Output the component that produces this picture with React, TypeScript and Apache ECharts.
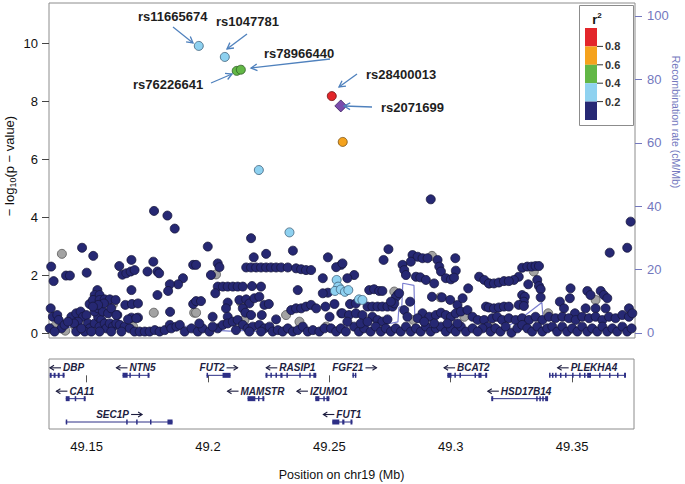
import React, { useEffect, useRef } from "react";
import * as echarts from "echarts";

// ---------- data (positions in kb on chr19, -log10 p) ----------
const navySnps: [number, number][] = [
  // upper / mid, left part
  [49177.7,4.21],[49183.2,4.05],[49186.2,3.60],[49148.1,2.94],[49152.7,2.66],[49135.4,2.29],[49136.4,1.79],[49141.5,1.98],[49143.1,1.98],[49150.0,2.08],
  [49163.4,2.31],[49168.4,2.52],[49164.7,2.01],[49166.3,2.06],[49168.1,2.12],[49169.7,2.17],[49175.0,2.12],[49177.4,2.46],[49179.1,2.12],[49179.8,2.06],
  [49193.8,2.35],[49189.6,1.89],[49187.6,1.68],[49184.2,1.68],[49183.5,1.45],[49179.1,1.31],[49168.4,1.48],[49154.4,1.48],[49153.3,1.31],[49155.3,1.31],
  [49151.2,1.00],[49152.6,1.14],[49155.3,1.14],[49157.4,1.16],[49159.5,1.16],[49161.9,1.14],[49165.9,0.97],[49168.6,1.00],[49171.1,1.02],[49168.4,0.53],
  [49171.1,0.53],[49162.6,0.62],[49184.3,0.73],[49193.8,1.00],
  [49135.2,0.85],[49136.1,0.56],[49137.9,0.62],[49138.5,0.45],[49134.8,0.16],[49139.6,0.16],[49143.7,0.56],[49145.7,0.68],[49147.5,0.74],[49148.5,0.56],
  [49149.9,0.62],[49146.4,0.39],[49144.8,0.33],[49150.5,0.33],[49151.2,0.16],[49153.3,0.33],[49154.7,0.56],[49156.0,0.45],[49155.3,0.22],[49157.4,0.33],
  [49158.1,0.16],[49159.5,0.33],[49160.8,0.22],[49162.2,0.33],[49163.6,0.28],[49165.6,0.22],[49167.7,0.16],[49169.7,0.05],[49171.8,0.05],[49173.9,0.05],
  [49175.9,0.05],[49178.0,0.10],[49180.0,0.05],[49182.1,0.10],[49184.2,0.28],[49184.8,0.16],[49186.9,0.22],[49188.3,0.28],[49190.3,0.05],[49193.1,0.16],
  [49145.7,0.05],[49149.2,0.05],[49136.8,0.05],[49155.3,0.05],[49160.1,0.05],[49164.3,0.05],[49151.9,0.05],[49147.8,0.16],[49140.9,0.28],[49142.3,0.39],
  [49153.3,0.74],[49154.7,0.85],[49156.7,0.74],[49158.8,0.68],[49157.1,1.02],[49154.7,0.97],[49152.6,0.91],[49160.1,0.85],[49167.0,0.47],[49170.4,0.51],
  [49162.2,0.62],
  // 49.195 - 49.255
  [49217.6,3.27],[49199.8,2.98],[49223.8,2.73],[49218.7,2.61],[49234.8,2.84],[49249.2,2.61],[49195.0,2.35],[49203.9,2.40],[49204.6,2.27],[49201.1,2.00],
  [49215.6,2.26],[49217.6,2.26],[49219.7,2.26],[49221.7,2.26],[49223.8,2.26],[49225.8,2.26],[49227.9,2.26],[49230.0,2.26],[49232.7,2.26],
  [49236.1,2.23],[49238.2,2.20],[49240.2,2.17],[49242.3,2.17],[49254.7,2.35],[49252.6,2.27],
  [49203.9,1.60],[49206.0,1.60],[49208.0,1.60],[49210.1,1.60],[49212.1,1.60],[49214.2,1.60],[49202.9,1.37],[49218.0,1.62],[49221.7,1.60],[49236.8,1.48],
  [49247.1,1.89],[49249.2,1.39],[49247.1,1.37],
  [49195.0,1.10],[49197.0,1.10],[49208.0,1.05],[49207.3,0.85],[49212.8,1.14],[49215.6,1.16],[49216.9,1.02],[49219.0,1.20],[49221.0,1.25],[49223.1,0.97],
  [49224.9,1.00],[49214.2,0.85],[49215.3,0.70],[49217.6,0.62],[49201.8,0.56],[49208.0,0.56],[49222.0,0.62],[49227.9,0.47],[49234.1,0.79],[49236.1,0.85],
  [49238.2,0.85],[49240.2,0.91],[49242.3,0.97],[49244.4,0.85],[49248.2,0.91],[49251.9,1.00],[49249.9,0.56],[49254.7,0.68],
  [49195.7,0.05],[49197.7,0.16],[49200.5,0.05],[49203.9,0.16],[49206.0,0.28],[49208.0,0.33],[49210.1,0.39],[49212.1,0.45],[49214.2,0.28],[49216.2,0.16],
  [49218.3,0.22],[49221.0,0.28],[49223.1,0.16],[49225.2,0.22],[49226.5,0.05],[49228.6,0.10],[49230.6,0.05],[49232.7,0.16],[49234.8,0.05],[49236.8,0.10],
  [49238.9,0.22],[49240.9,0.05],[49243.0,0.10],[49245.7,0.05],[49247.8,0.16],[49250.5,0.16],[49252.6,0.05],[49196.3,0.33],[49201.8,0.22],[49211.4,0.10],
  [49216.9,0.05],[49221.7,0.05],
  // 49.255 - 49.315
  [49291.5,4.61],[49274.1,2.89],[49272.1,2.52],[49255.2,2.40],[49284.0,2.69],[49286.1,2.63],[49288.1,2.58],[49290.2,2.58],[49294.3,2.52],[49301.6,2.58],
  [49295.0,2.29],[49301.8,2.15],[49295.7,2.12],[49297.7,1.89],[49299.8,1.85],[49301.1,1.91],[49279.9,2.35],[49283.3,2.46],[49280.6,2.17],[49281.3,2.00],
  [49285.4,1.94],[49287.2,1.92],[49289.5,1.83],[49292.9,1.71],[49311.4,1.94],[49313.5,1.83],[49315.6,1.71],[49306.9,1.54],[49260.0,2.00],[49257.2,1.89],
  [49266.2,1.48],[49268.2,1.51],[49270.3,1.45],[49271.6,1.45],[49277.8,1.31],[49277.1,1.23],[49278.5,1.37],[49283.0,1.08],[49292.0,1.25],[49296.1,1.23],
  [49299.5,1.14],[49302.5,0.97],[49304.6,1.20],[49314.2,0.91],[49258.3,1.00],[49260.7,1.02],[49265.5,0.91],[49267.5,0.91],[49269.6,0.91],[49271.6,0.91],
  [49273.7,0.91],[49275.8,0.91],[49276.5,1.02],[49275.1,1.08],[49280.6,0.79],[49255.2,0.68],[49257.9,0.62],[49260.7,0.68],[49263.4,0.62],[49267.5,0.56],
  [49269.6,0.45],[49271.6,0.39],[49273.7,0.47],[49288.1,0.68],[49290.9,0.56],[49293.6,0.62],[49295.7,0.70],[49297.7,0.62],[49299.8,0.56],[49301.8,0.68],
  [49303.9,0.74],[49306.6,0.79],[49308.7,0.56],[49310.8,0.45],[49313.5,0.45],[49314.9,0.22],[49312.8,0.16],[49281.9,0.56],[49286.1,0.51],
  [49254.5,0.16],[49256.6,0.05],[49260.0,0.22],[49262.0,0.05],[49264.1,0.16],[49266.8,0.05],[49268.9,0.22],[49271.0,0.05],[49273.0,0.16],[49275.1,0.05],
  [49277.1,0.16],[49279.2,0.05],[49281.3,0.22],[49283.3,0.05],[49285.4,0.16],[49287.4,0.05],[49289.5,0.22],[49291.5,0.05],[49293.6,0.16],[49295.7,0.22],
  [49297.7,0.05],[49299.8,0.16],[49301.8,0.05],[49303.9,0.22],[49306.0,0.05],[49308.7,0.16],[49310.8,0.05],[49257.2,0.39],[49262.7,0.33],[49265.5,0.39],
  [49288.8,0.39],[49292.9,0.33],[49298.4,0.33],[49302.5,0.33],
  // 49.315 - 49.375
  [49373.7,3.84],[49372.3,2.94],[49365.1,2.77],[49329.1,2.25],[49331.2,2.29],[49333.0,2.29],[49334.6,2.31],[49336.0,2.31],[49327.7,1.94],[49325.7,1.83],
  [49315.4,1.71],[49317.5,1.71],[49319.5,1.74],[49321.6,1.79],[49323.6,1.79],[49331.6,1.68],[49335.3,1.83],[49336.0,1.62],[49336.7,1.51],[49329.1,1.31],
  [49330.2,1.25],[49329.8,1.08],[49336.7,1.23],[49349.0,1.54],[49348.7,1.20],[49344.6,1.08],[49355.9,1.45],[49357.2,1.31],[49361.4,1.45],[49362.7,1.31],
  [49364.1,1.20],[49315.4,0.88],[49317.5,0.85],[49319.5,0.88],[49321.6,0.91],[49323.6,0.91],[49327.7,0.97],[49329.8,0.93],[49346.3,0.85],[49350.8,0.68],
  [49355.2,0.85],[49359.3,0.85],[49363.4,0.85],[49373.0,0.85],
  [49316.8,0.51],[49318.8,0.56],[49320.9,0.45],[49323.6,0.51],[49326.4,0.45],[49329.1,0.51],[49331.9,0.45],[49334.6,0.56],[49337.4,0.45],[49340.1,0.56],
  [49342.8,0.51],[49345.6,0.56],[49348.3,0.51],[49351.1,0.45],[49353.8,0.56],[49356.6,0.51],[49359.3,0.56],[49362.1,0.45],[49364.8,0.56],[49367.5,0.51],
  [49370.3,0.62],[49373.0,0.56],[49374.4,0.68],
  [49316.1,0.05],[49318.1,0.16],[49320.2,0.05],[49322.3,0.22],[49324.7,0.01],[49327.1,0.16],[49329.1,0.28],[49331.2,0.16],[49333.2,0.05],[49335.3,0.22],
  [49337.4,0.05],[49339.4,0.16],[49341.5,0.22],[49343.5,0.05],[49345.6,0.22],[49347.6,0.05],[49349.7,0.16],[49351.8,0.05],[49353.8,0.22],[49355.9,0.05],
  [49357.9,0.16],[49360.0,0.05],[49362.1,0.22],[49364.1,0.05],[49366.2,0.16],[49368.2,0.05],[49370.3,0.22],[49372.3,0.05],[49374.1,0.16],
];
const greySnps: [number, number][] = [
  [49139.8,2.73],[49160.8,0.99],[49177.6,0.70],[49194.2,0.70],[49136.8,0.22],[49141.2,0.08],[49145.3,0.22],[49169.1,0.22],
  [49203.2,2.02],[49213.5,1.05],[49195.0,0.70],[49232.0,0.62],[49237.5,0.39],[49214.9,0.45],[49248.5,0.22],
  [49292.0,2.66],[49276.5,1.43],[49295.4,1.23],[49284.4,0.45],[49305.3,0.56],
  [49333.9,2.12],[49359.3,1.14],[49339.8,0.68],[49316.8,0.22],
];
const lightBlueSnps: [number, number][] = [
  [49196.1,9.90],[49206.8,9.52],[49220.8,5.62],[49233.4,3.47],[49252.8,1.83],[49253.4,1.60],[49252.1,1.45],[49254.5,1.50],
  [49256.2,1.42],[49257.6,1.48],[49262.0,1.16],[49263.4,1.14],
];
const greenSnps: [number, number][] = [[49211.7,9.04],[49213.4,9.08]];
const orangeSnps: [number, number][] = [[49255.3,6.59]];
const redSnps: [number, number][] = [[49250.8,8.17]];
const leadSnp: [number, number][] = [[49254.5,7.83]];

// recombination rate (cM/Mb)
const recombPosKb = [49134.4,49143.0,49151.2,49159.5,49167.7,49175.9,49184.2,49192.4,49200.6,49208.8,49213.0,49219.1,49229.4,49237.7,49245.9,49252.1,49258.2,49266.5,49274.7,49278.0,49278.4,49279.6,49280.0,49284.6,49285.0,49295.2,49305.5,49311.7,49319.9,49324.0,49328.6,49337.2,49338.0,49352.9,49365.2,49375.5];
const recombRate = [1.5,1.8,2.0,1.6,1.2,1.5,1.8,2.2,1.0,0.6,0.8,0.5,0.4,0.5,0.8,1.5,2.2,2.5,3.0,3.5,8.0,8.5,15.7,15.0,3.5,2.5,1.0,0.6,0.8,2.5,4.6,9.6,1.0,0.8,1.2,1.5];

// genes
const geneNames = ["DBP","CA11","SEC1P","NTN5","FUT2","MAMSTR","RASIP1","IZUMO1","FUT1","FGF21","BCAT2","HSD17B14","PLEKHA4"];
const geneStartKb = [49134.8,49141.4,49141.4,49164.8,49199.4,49216.3,49223.7,49244.2,49251.2,49259.5,49298.6,49316.7,49340.5];
const geneEndKb = [49140.9,49149.6,49185.4,49175.9,49209.3,49223.2,49244.6,49250.0,49259.5,49261.1,49315.0,49340.1,49372.2];
const geneRow = [0,1,2,0,0,1,0,1,2,0,0,1,0];
const geneStrand = [-1,-1,1,-1,1,-1,-1,-1,-1,1,-1,-1,-1];
const geneExonsKb: [number, number][][] = [
  [[49134.8,49135.6],[49136.4,49137.2],[49138.1,49138.9],[49140.1,49140.9]],
  [[49141.4,49143.0],[49145.1,49145.5],[49148.8,49149.6]],
  [[49141.4,49141.8],[49166.3,49166.7],[49170.4,49170.8],[49176.1,49176.5],[49183.3,49185.4]],
  [[49164.8,49166.9],[49167.6,49168.0],[49171.4,49171.8],[49175.1,49175.9]],
  [[49199.4,49199.8],[49206.0,49209.3]],
  [[49216.3,49219.5],[49220.6,49221.0],[49222.4,49223.2]],
  [[49223.7,49224.5],[49225.7,49226.1],[49227.8,49228.2],[49229.8,49230.7],[49232.3,49232.7],[49237.6,49238.0],[49241.7,49242.1],[49243.4,49244.6]],
  [[49244.2,49245.9],[49247.5,49247.9],[49248.8,49250.0]],
  [[49251.2,49254.1],[49255.3,49256.2],[49258.7,49259.5]],
  [[49259.5,49260.1],[49260.5,49261.1]],
  [[49298.6,49300.3],[49301.5,49301.9],[49303.6,49304.0],[49309.8,49310.2],[49311.4,49312.7],[49314.2,49315.0]],
  [[49316.7,49317.5],[49335.2,49335.6],[49336.5,49336.9],[49337.7,49338.1],[49338.9,49340.1]],
  [[49340.5,49340.9],[49341.7,49342.1],[49343.0,49343.4],[49345.0,49345.4],[49347.1,49347.5],[49350.0,49350.4],[49352.9,49353.3],[49354.9,49355.3],[49356.2,49357.8],[49361.1,49361.5],[49365.2,49365.6],[49368.5,49368.9],[49371.4,49372.2]],
];

const pValueTicks = [0, 2, 4, 6, 8, 10];
const recombTicks = [0, 20, 40, 60, 80, 100];
const positionTicks = [49.15, 49.2, 49.25, 49.3, 49.35];
const ldBreaks = ["0.8", "0.6", "0.4", "0.2"];
const ldColors = ["#e3262b", "#f5a21d", "#62b746", "#8fd2f0", "#262874"];

// annotations (text start x, centre y) and arrows [x1,y1,x2,y2]
const annoLabels = ["rs11665674", "rs1047781", "rs78966440", "rs76226641", "rs28400013", "rs2071699"];
const annoTextPos = [[138,16],[216,21],[264,53],[133,84],[366,74],[381,107]];
const annoArrows = [[173,27,193,43],[247,34,227,49],[330,59,251,68],[211,83,232,74],[357,74,339,87],[372,107,344,106]];

const FONT = '"Liberation Sans", Arial, sans-serif';
const X_MIN = 49.1345;
const X_MAX = 49.3755;

const toMb = (arr: [number, number][]) => arr.map(([kb, p]) => [kb / 1000, p]);

// approximate advance widths of bold 10px Arial-like glyphs
const glyphW: Record<string, number> = {
  A: 7.2, B: 7.2, C: 7.2, D: 7.2, E: 6.7, F: 6.1, G: 7.8, H: 7.2, I: 2.8, K: 7.2, L: 6.1, M: 8.3, N: 7.2,
  O: 7.8, P: 6.7, R: 7.2, S: 6.7, T: 6.1, U: 7.2, Z: 6.1,
};
const textWidth = (s: string) => s.split("").reduce((w, c) => w + (glyphW[c] ?? 5.6), 0);

function arrowHead(x: number, y: number, dir: number, color: string) {
  const L = 4;
  return {
    type: "polyline",
    shape: { points: [[x - dir * L, y - 2.5], [x, y], [x - dir * L, y + 2.5]] },
    style: { stroke: color, lineWidth: 1.1, fill: null },
  };
}

function arrowGraphics() {
  const out: any[] = [];
  annoArrows.forEach(([x1, y1, x2, y2]) => {
    const a = Math.atan2(y2 - y1, x2 - x1);
    const L = 7, s = 0.5;
    out.push({ type: "line", z: 50, shape: { x1, y1, x2, y2 }, style: { stroke: "#4f81bd", lineWidth: 1.3 } });
    out.push({
      type: "polyline", z: 50,
      shape: { points: [[x2 - L * Math.cos(a - s), y2 - L * Math.sin(a - s)], [x2, y2], [x2 - L * Math.cos(a + s), y2 - L * Math.sin(a + s)]] },
      style: { stroke: "#4f81bd", lineWidth: 1.3, fill: null },
    });
  });
  annoLabels.forEach((t, i) => {
    out.push({ type: "text", z: 50, x: annoTextPos[i][0], y: annoTextPos[i][1],
      style: { text: t, fill: "#1e1e1e", font: `bold 13px ${FONT}`, align: "left", verticalAlign: "middle" } });
  });
  return out;
}

function legendGraphics() {
  const out: any[] = [];
  out.push({ type: "rect", z: 60, shape: { x: 579.5, y: 5.5, width: 54, height: 120 }, style: { fill: "#fff", stroke: "#8c8c8c", lineWidth: 1 } });
  out.push({ type: "text", z: 61, x: 597, y: 19, style: { text: "{r|r}{s|2}", align: "center", verticalAlign: "middle",
    rich: { r: { font: `bold 13px ${FONT}`, fill: "#111" }, s: { font: `bold 8px ${FONT}`, fill: "#111", padding: [0, 0, 7, 0] } } } });
  const top = 28, h = 18.4;
  ldColors.forEach((c, i) => {
    out.push({ type: "rect", z: 61, shape: { x: 585, y: top + i * h, width: 12, height: h }, style: { fill: c } });
  });
  ldBreaks.forEach((t, i) => {
    const y = top + (i + 1) * h;
    out.push({ type: "line", z: 61, shape: { x1: 597, y1: y, x2: 603, y2: y }, style: { stroke: "#333", lineWidth: 1 } });
    out.push({ type: "text", z: 61, x: 605, y, style: { text: t, font: `bold 11px ${FONT}`, fill: "#333", align: "left", verticalAlign: "middle" } });
  });
  return out;
}

export default function App() {
  const ref = useRef<HTMLDivElement>(null);
  useEffect(() => {
    if (!ref.current) return;
    const chart = echarts.init(ref.current, null, { renderer: "svg" });
    const geneData = geneNames.map((_, i) => [geneStartKb[i] / 1000, geneEndKb[i] / 1000, geneRow[i]]);
    const scatterBase = { type: "scatter", xAxisIndex: 0, yAxisIndex: 0, symbolSize: 9, clip: true, silent: true };
    const geneColor = "#2d2f86";
    const labelColor = "#1d1d3f";
    const option: any = {
      animation: false,
      textStyle: { fontFamily: FONT },
      grid: [
        { left: 49, top: 3, width: 586, height: 335, show: true, borderColor: "#8c8c8c", borderWidth: 1 },
        { left: 49, top: 359, width: 585, height: 70, show: true, borderColor: "#8c8c8c", borderWidth: 1 },
      ],
      xAxis: [
        { type: "value", gridIndex: 0, min: X_MIN, max: X_MAX, show: false },
        {
          type: "value", gridIndex: 1, min: X_MIN, max: X_MAX,
          axisLine: { show: false }, splitLine: { show: false },
          axisTick: { show: true, customValues: positionTicks, length: 7, lineStyle: { color: "#555" } },
          axisLabel: { customValues: positionTicks, fontSize: 13, color: "#111", margin: 11,
            formatter: (v: number) => String(Number(v.toFixed(2))) },
          name: "Position on chr19 (Mb)", nameLocation: "middle", nameGap: 39,
          nameTextStyle: { fontSize: 12.5, color: "#111" },
        },
      ],
      yAxis: [
        {
          type: "value", gridIndex: 0, min: -0.172, max: 11.38, position: "left",
          axisLine: { show: false }, splitLine: { show: false },
          axisTick: { show: true, customValues: pValueTicks, length: 7, lineStyle: { color: "#444" } },
          axisLabel: { customValues: pValueTicks, fontSize: 13, color: "#111", margin: 11 },
        },
        {
          type: "value", gridIndex: 0, min: -1.58, max: 104.1, position: "right",
          axisLine: { show: false }, splitLine: { show: false },
          axisTick: { show: true, customValues: recombTicks, length: 7, lineStyle: { color: "#7378be" } },
          axisLabel: { customValues: recombTicks, fontSize: 13, color: "#7378be", margin: 12 },
        },
        { type: "value", gridIndex: 1, min: -0.7, max: 2.3, inverse: true, show: false },
      ],
      series: [
        {
          type: "line", xAxisIndex: 0, yAxisIndex: 1, silent: true, symbol: "none", z: 1,
          data: recombPosKb.map((p, i) => [p / 1000, recombRate[i]]),
          lineStyle: { color: "#7b7fd0", width: 1.2 },
        },
        { ...scatterBase, z: 2, data: toMb(greySnps), itemStyle: { opacity: 1, color: "#a3a3a3", borderColor: "#555", borderWidth: 0.8 } },
        { ...scatterBase, z: 3, data: toMb(navySnps), itemStyle: { opacity: 1, color: "#262873", borderColor: "#16173c", borderWidth: 0.8 } },
        { ...scatterBase, z: 4, data: toMb(lightBlueSnps), itemStyle: { opacity: 1, color: "#8ed1f0", borderColor: "#3d5f78", borderWidth: 0.8 } },
        { ...scatterBase, z: 5, data: toMb(greenSnps), itemStyle: { opacity: 1, color: "#62b746", borderColor: "#2f5a24", borderWidth: 0.8 } },
        { ...scatterBase, z: 5, data: toMb(orangeSnps), itemStyle: { opacity: 1, color: "#f4a21d", borderColor: "#7a5010", borderWidth: 0.8 } },
        { ...scatterBase, z: 5, data: toMb(redSnps), itemStyle: { opacity: 1, color: "#e2262a", borderColor: "#701010", borderWidth: 0.8 } },
        { ...scatterBase, z: 6, symbol: "diamond", symbolSize: 12, data: toMb(leadSnp), itemStyle: { opacity: 1, color: "#7b4cad", borderColor: "#3a2060", borderWidth: 0.8 } },
        {
          type: "custom", xAxisIndex: 1, yAxisIndex: 2, silent: true, clip: false,
          encode: { x: [0, 1], y: 2 },
          data: geneData,
          renderItem: (params: any, api: any) => {
            const i = params.dataIndex;
            const row = geneRow[i];
            const [x1, y] = api.coord([geneStartKb[i] / 1000, row]);
            const x2 = api.coord([geneEndKb[i] / 1000, row])[0];
            const children: any[] = [
              { type: "line", shape: { x1, y1: y, x2, y2: y }, style: { stroke: geneColor, lineWidth: 1 } },
            ];
            geneExonsKb[i].forEach(([a, b]) => {
              const xa = api.coord([a / 1000, row])[0];
              const xb = api.coord([b / 1000, row])[0];
              children.push({ type: "rect", shape: { x: xa, y: y - 2.5, width: Math.max(xb - xa, 1.5), height: 5 }, style: { fill: geneColor } });
            });
            // label: arrow + name, centred on the gene, kept inside the panel
            const arrowLen = 11, gap = 2;
            const tw = textWidth(geneNames[i]);
            const w = tw + arrowLen + gap;
            let left = (x1 + x2) / 2 - w / 2;
            const cs = params.coordSys;
            if (left < cs.x + 1) left = cs.x + 1;
            if (left + w > cs.x + cs.width - 1) left = cs.x + cs.width - 1 - w;
            const ly = y - 7.5;
            let textX: number, ax1: number, ax2: number, dir: number;
            if (geneStrand[i] < 0) {
              ax1 = left + arrowLen; ax2 = left; dir = -1; textX = left + arrowLen + gap;
            } else {
              textX = left; ax1 = left + tw + gap; ax2 = ax1 + arrowLen; dir = 1;
            }
            children.push({ type: "line", shape: { x1: ax1, y1: ly, x2: ax2, y2: ly }, style: { stroke: labelColor, lineWidth: 1.1 } });
            children.push(arrowHead(ax2, ly, dir, labelColor));
            children.push({ type: "text", x: textX, y: ly,
              style: { text: geneNames[i], fill: labelColor, font: `italic bold 10px ${FONT}`, align: "left", verticalAlign: "middle" } });
            return { type: "group", children };
          },
        },
      ],
      graphic: [
        { type: "text", x: 9, y: 166, rotation: Math.PI / 2,
          style: { text: "{a|\u2212 log}{b|10}{a|(p \u2212 value)}", align: "center", verticalAlign: "middle",
            rich: { a: { fontSize: 13, fill: "#111", fontFamily: FONT }, b: { fontSize: 9, fill: "#111", fontFamily: FONT, padding: [7, 0, 0, 0] } } } },
        { type: "text", x: 676, y: 122, rotation: -Math.PI / 2,
          style: { text: "Recombination rate (cM/Mb)", font: `10.5px ${FONT}`, fill: "#7378be", align: "center", verticalAlign: "middle" } },
        ...legendGraphics(),
        ...arrowGraphics(),
      ],
    };
    chart.setOption(option);
    return () => chart.dispose();
  }, []);
  return <div ref={ref} style={{ position: "fixed", left: 0, top: 0, width: 685, height: 484, background: "#fff" }} />;
}
